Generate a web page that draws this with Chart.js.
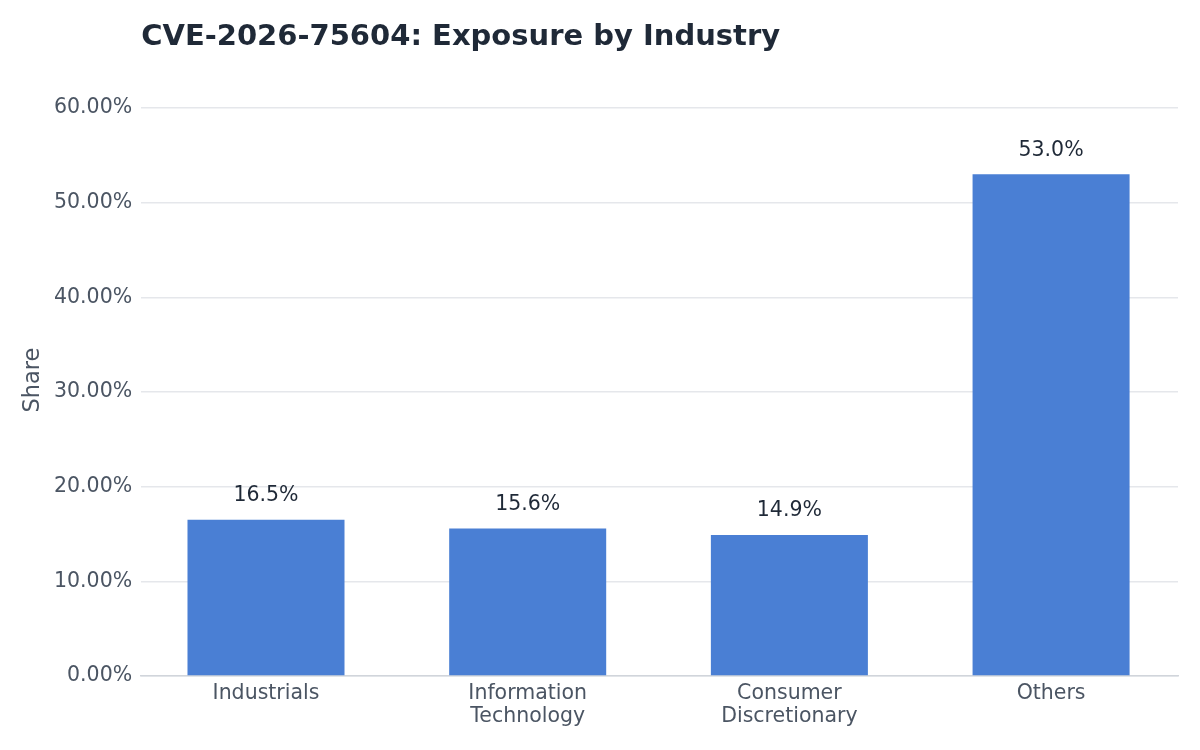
<!DOCTYPE html>
<html>
<head>
<meta charset="utf-8">
<script src="https://cdn.jsdelivr.net/npm/chart.js@4/dist/chart.umd.min.js"></script>
<style>
  html, body { margin: 0; padding: 0; background: #fff; }
  #wrap { width: 1200px; height: 750px; }
</style>
</head>
<body>
<div id="wrap"><canvas id="chart"></canvas></div>
<script>
const chartTitle = 'CVE-2026-75604: Exposure by Industry'
const industries = ['Industrials', ['Information', 'Technology'], ['Consumer', 'Discretionary'], 'Others']
const shares = [16.5, 15.6, 14.9, 53.0]
const yTicks = [0, 10, 20, 30, 40, 50, 60]

const FONT = "'DejaVu Sans', sans-serif"

// title flush with the plot's left edge, axis title centred on the page
const textPlugin = {
  id: 'texts',
  afterDraw(chart) {
    const ctx = chart.ctx
    ctx.save()
    ctx.font = 'bold 29px ' + FONT
    ctx.fillStyle = '#1f2937'
    ctx.textAlign = 'left'
    ctx.textBaseline = 'middle'
    ctx.fillText(chartTitle, chart.chartArea.left, 37)

    ctx.translate(33, 380)
    ctx.rotate(-Math.PI / 2)
    ctx.font = '22.5px ' + FONT
    ctx.fillStyle = '#4b5563'
    ctx.textAlign = 'center'
    ctx.fillText('Share', 0, 0)
    ctx.restore()
  }
}

// value labels above each bar
const barLabels = {
  id: 'barLabels',
  afterDatasetsDraw(chart) {
    const ctx = chart.ctx
    const meta = chart.getDatasetMeta(0)
    ctx.save()
    ctx.font = '20.5px ' + FONT
    ctx.fillStyle = '#1f2937'
    ctx.textAlign = 'center'
    ctx.textBaseline = 'middle'
    meta.data.forEach((bar, i) => {
      ctx.fillText(shares[i].toFixed(1) + '%', bar.x, bar.y - 24)
    })
    ctx.restore()
  }
}

new Chart(document.getElementById('chart'), {
  type: 'bar',
  data: {
    datasets: [{
      label: 'Share',
      data: shares.map((v, i) => ({ x: i, y: v })),
      backgroundColor: '#4a7fd4',
      barPercentage: 0.6,
      categoryPercentage: 1.0
    }]
  },
  options: {
    responsive: true,
    maintainAspectRatio: false,
    animation: false,
    layout: { padding: { top: 108, right: 22, left: 45, bottom: 24 } },
    plugins: {
      legend: { display: false },
      tooltip: { enabled: false }
    },
    scales: {
      x: {
        type: 'linear',
        offset: false,
        min: -0.477,
        max: 3.485,
        afterBuildTicks(scale) {
          scale.ticks = industries.map((_, i) => ({ value: i }))
        },
        grid: { display: false },
        border: { display: true, color: '#d1d5db', width: 1.5 },
        ticks: {
          color: '#4b5563',
          font: { family: FONT, size: 20.5, lineHeight: 1.12 },
          padding: -2,
          maxRotation: 0,
          callback: v => industries[v]
        }
      },
      y: {
        min: 0,
        max: 60,
        afterBuildTicks(scale) {
          scale.ticks = yTicks.map(v => ({ value: v }))
        },
        grid: { color: '#e5e7eb', lineWidth: 1.5, drawTicks: false },
        border: { display: false },
        ticks: {
          color: '#4b5563',
          font: { family: FONT, size: 20.5 },
          padding: 9,
          callback: v => v.toFixed(2) + '%'
        }
      }
    }
  },
  plugins: [textPlugin, barLabels]
})
</script>
</body>
</html>
